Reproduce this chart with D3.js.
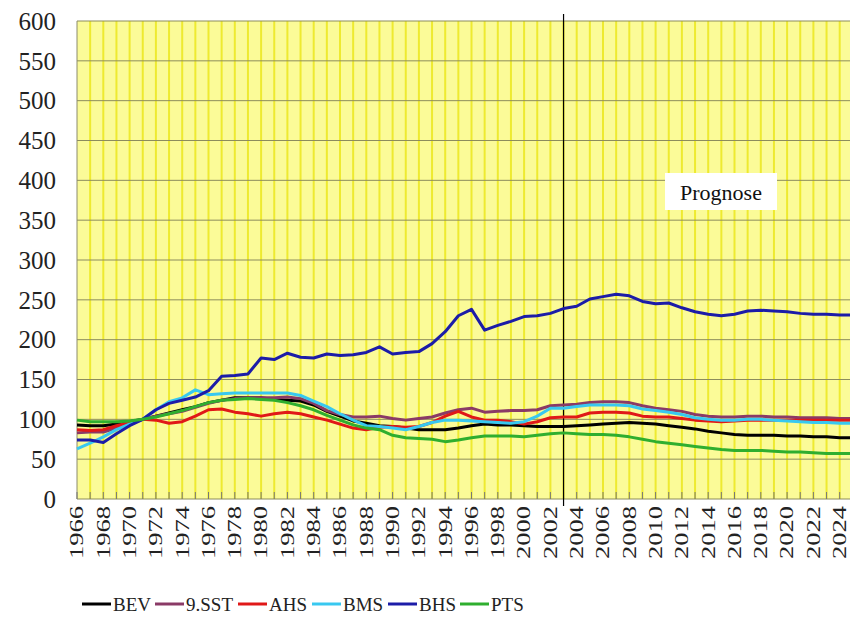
<!DOCTYPE html>
<html>
<head>
<meta charset="utf-8">
<script src="https://cdn.jsdelivr.net/npm/d3@7"></script>
<style>
  body { margin: 0; background: #fff; }
  text { font-family: "Liberation Serif", "Times New Roman", serif; }
</style>
</head>
<body>
<div id="chart"></div>
<script>
const years = d3.range(1966, 2026);

const BEV = [93,92,92,94,97,100,104,108,112,116,121,124,127,127,127,125,124,123,118,110,
  104,98,95,92,91,89,87,87,87,89,92,94,93,93,92,91,91,91,92,93,
  94,95,96,95,94,92,90,88,85,83,81,80,80,80,79,79,78,78,77,77];
const SST = [83,84,84,89,95,100,104,107,110,115,120,124,126,127,127,127,128,126,120,111,
  106,103,103,104,101,99,101,103,108,112,114,109,110,111,111,112,117,118,119,121,
  122,122,121,117,114,112,110,106,104,103,103,104,104,103,103,102,102,102,101,101];
const AHS = [87,86,87,92,96,100,99,95,97,104,112,113,109,107,104,107,109,107,103,99,
  94,89,87,90,91,90,91,96,104,110,103,99,99,97,94,97,102,103,103,108,
  109,109,108,104,103,103,101,99,98,97,98,99,99,99,99,99,99,99,99,99];
const BMS = [63,70,78,87,94,100,112,122,127,137,131,132,133,133,133,133,133,130,123,116,
  107,99,92,91,89,87,91,96,99,99,98,97,96,95,97,104,114,114,116,118,
  118,118,117,113,111,109,106,102,100,99,99,100,100,99,98,97,96,96,95,95];
const BHS = [74,74,71,82,92,100,112,120,124,128,136,154,155,157,177,175,183,178,177,182,
  180,181,184,191,182,184,185,195,210,230,238,212,218,223,229,230,233,239,242,251,
  254,257,255,248,245,246,240,235,232,230,232,236,237,236,235,233,232,232,231,231];
const PTS = [99,97,97,97,98,100,103,107,111,116,121,124,125,126,125,124,121,117,112,105,
  99,93,89,87,80,77,76,75,72,74,77,79,79,79,78,80,82,83,82,81,
  81,80,78,75,72,70,68,66,64,62,61,61,61,60,59,59,58,57,57,57];

const seriesNames = ["BEV", "9.SST", "AHS", "BMS", "BHS", "PTS"];
const seriesValues = [BEV, SST, AHS, BMS, BHS, PTS];
const seriesColors = ["#000000", "#8a3a66", "#e01818", "#38c8f0", "#1c1ca8", "#2fae2f"];
const yTicks = d3.range(0, 601, 50);
const tickYears = d3.range(1966, 2025, 2);
const prognoseYear = 2003;

const width = 850, height = 623;
const plotLeft = 77, plotTop = 21, plotBottom = 499;

const x = d3.scaleLinear().domain([1966, 2025]).range([plotLeft, plotLeft + 59 * 13.15]);
const y = d3.scaleLinear().domain([0, 600]).range([plotBottom, plotTop]);

const svg = d3.select("#chart").append("svg")
  .attr("width", width).attr("height", height);

// plot background
svg.append("rect")
  .attr("x", plotLeft).attr("y", plotTop)
  .attr("width", 900 - plotLeft).attr("height", plotBottom - plotTop)
  .attr("fill", "#fbfb98");

// vertical stripes, one per year
svg.append("g").selectAll("line")
  .data(years.slice(1))
  .join("line")
  .attr("x1", d => x(d)).attr("x2", d => x(d))
  .attr("y1", plotTop).attr("y2", plotBottom)
  .attr("stroke", "#eeea30").attr("stroke-width", 2);

// horizontal grid
svg.append("g").selectAll("line")
  .data(yTicks)
  .join("line")
  .attr("x1", plotLeft).attr("x2", width)
  .attr("y1", d => y(d)).attr("y2", d => y(d))
  .attr("stroke", "#8c8c5c").attr("stroke-width", 1);

// left border
svg.append("line")
  .attr("x1", plotLeft).attr("x2", plotLeft).attr("y1", plotTop).attr("y2", plotBottom)
  .attr("stroke", "#8c8c6c");

// small ticks on the category axis
svg.append("g").selectAll("line")
  .data(years)
  .join("line")
  .attr("x1", d => x(d)).attr("x2", d => x(d))
  .attr("y1", plotBottom - 7).attr("y2", plotBottom)
  .attr("stroke", "#777");

// y labels
svg.append("g").selectAll("text")
  .data(yTicks)
  .join("text")
  .attr("x", 56).attr("y", d => y(d))
  .attr("dy", "0.35em")
  .attr("text-anchor", "end")
  .attr("font-size", 25)
  .attr("fill", "#222")
  .text(d => d);

// x labels, rotated
svg.append("g").selectAll("text")
  .data(tickYears)
  .join("text")
  .attr("transform", d => `translate(${x(d)},506) rotate(-90)`)
  .attr("dy", "0.35em")
  .attr("text-anchor", "end")
  .attr("font-size", 18)
  .attr("textLength", 53)
  .attr("lengthAdjust", "spacingAndGlyphs")
  .attr("fill", "#222")
  .text(d => d);

// prognose separator
svg.append("line")
  .attr("x1", x(prognoseYear)).attr("x2", x(prognoseYear))
  .attr("y1", 14).attr("y2", 506)
  .attr("stroke", "#000").attr("stroke-width", 1.2);

svg.append("rect")
  .attr("x", 665).attr("y", 173).attr("width", 112).attr("height", 37)
  .attr("fill", "#fff");
svg.append("text")
  .attr("x", 721).attr("y", 192).attr("dy", "0.35em")
  .attr("text-anchor", "middle")
  .attr("font-size", 22)
  .attr("fill", "#111")
  .text("Prognose");

// series lines
const line = d3.line()
  .x((d, i) => x(years[i]))
  .y(d => y(d));

svg.append("g").selectAll("path")
  .data(seriesValues)
  .join("path")
  .attr("d", d => line(d))
  .attr("fill", "none")
  .attr("stroke", (d, i) => seriesColors[i])
  .attr("stroke-width", 3)
  .attr("stroke-linejoin", "round");

// legend
const legendX = [82, 155, 238, 312, 388, 460];
const legend = svg.append("g").selectAll("g")
  .data(seriesNames)
  .join("g")
  .attr("transform", (d, i) => `translate(${legendX[i]},604)`);
legend.append("line")
  .attr("x1", 0).attr("x2", 29)
  .attr("stroke", (d, i) => seriesColors[i])
  .attr("stroke-width", 3);
legend.append("text")
  .attr("x", 31).attr("dy", "0.35em")
  .attr("font-size", 19)
  .attr("fill", "#222")
  .text(d => d);
</script>
</body>
</html>
